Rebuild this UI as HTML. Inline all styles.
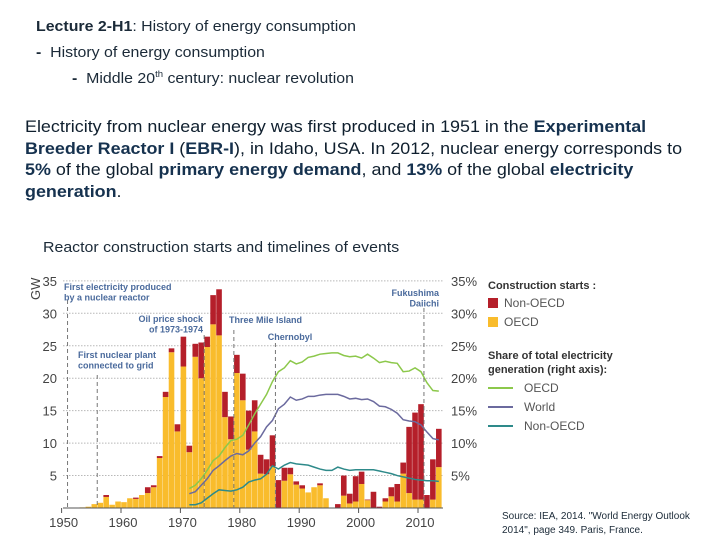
<!DOCTYPE html>
<html><head><meta charset="utf-8"><style>
body{margin:0;width:720px;height:540px;background:#fff;font-family:"Liberation Sans",sans-serif;position:relative;overflow:hidden;color:#1b2a38}
.t{position:absolute;white-space:nowrap;transform-origin:0 0}
.s{transform:scaleX(1.06)}
b{color:#16324f}
</style></head><body>
<div class="t s" style="left:36px;top:18px;font-size:15px"><b style="color:#1b2a38">Lecture 2-H1</b>: History of energy consumption</div>
<div class="t s" style="left:36px;top:44px;font-size:15px"><b style="color:#1b2a38">-</b>&nbsp; History of energy consumption</div>
<div class="t s" style="left:72px;top:69px;font-size:15px"><b style="color:#1b2a38">-</b>&nbsp; Middle 20<sup style="font-size:9px">th</sup> century: nuclear revolution</div>
<div class="t" style="left:25px;top:117px;font-size:16.3px;line-height:21.6px;color:#0f1f2e;transform:scaleX(1.1)">Electricity from nuclear energy was first produced in 1951 in the <b>Experimental</b><br><b>Breeder Reactor I</b> (<b>EBR-I</b>), in Idaho, USA. In 2012, nuclear energy corresponds to<br><b>5%</b> of the global <b>primary energy demand</b>, and <b>13%</b> of the global <b>electricity</b><br><b>generation</b>.</div>
<div class="t s" style="left:43px;top:239px;font-size:15px">Reactor construction starts and timelines of events</div>
<div class="t" style="left:502px;top:510px;font-size:10px;line-height:14px;white-space:normal;width:215px">Source: IEA, 2014. "World Energy Outlook 2014", page 349. Paris, France.</div>
<svg id="chart" width="720" height="540" style="position:absolute;left:0;top:0" font-family="Liberation Sans, sans-serif"></svg>
<script>
const years=[1953,1954,1955,1956,1957,1958,1959,1960,1961,1962,1963,1964,1965,1966,1967,1968,1969,1970,1971,1972,1973,1974,1975,1976,1977,1978,1979,1980,1981,1982,1983,1984,1985,1986,1987,1988,1989,1990,1991,1992,1993,1994,1995,1996,1997,1998,1999,2000,2001,2002,2003,2004,2005,2006,2007,2008,2009,2010,2011,2012,2013];
const oecd=[0.1,0.2,0.6,0.8,1.7,0.5,1.0,0.9,1.5,1.4,2.0,2.3,3.2,7.7,17.1,24.0,11.8,21.8,8.6,23.3,20.0,24.8,28.3,26.6,14.0,10.6,20.8,16.6,9.0,11.8,5.3,5.2,6.4,0,4.2,5.2,3.6,3.0,2.4,3.2,3.5,1.5,0,0,1.9,0.7,1.0,3.7,1.2,0,0,1.0,1.8,1.0,5.3,2.3,1.3,1.3,0,1.3,6.3];
const total=[0.1,0.2,0.6,0.8,2.0,0.5,1.0,0.9,1.5,1.6,2.0,3.2,3.5,8.0,17.9,24.6,12.9,26.4,9.6,25.3,25.5,26.4,32.8,33.7,17.9,14.1,23.6,20.7,15.0,16.6,8.2,7.5,11.2,4.3,6.2,6.2,4.1,3.5,2.4,3.2,3.8,1.5,0,0.6,5.0,2.2,4.9,5.6,1.3,2.5,0.2,1.5,3.2,3.7,7.0,12.5,14.7,16.0,2.0,7.5,12.2];
const lineYears=[1971,1972,1973,1974,1975,1976,1977,1978,1979,1980,1981,1982,1983,1984,1985,1986,1987,1988,1989,1990,1991,1992,1993,1994,1995,1996,1997,1998,1999,2000,2001,2002,2003,2004,2005,2006,2007,2008,2009,2010,2011,2012,2013];
const shareOECD=[3.0,3.5,4.5,5.8,7.3,8.0,9.3,10.4,10.6,11.2,12.8,14.5,16.0,17.5,19.5,21.0,21.6,22.7,22.2,22.5,23.2,23.4,23.7,23.8,23.9,23.9,23.5,23.3,23.4,23.1,23.7,23.1,22.4,22.6,22.4,22.3,21.0,21.1,21.6,21.0,19.3,18.1,18.0];
const shareWorld=[2.2,2.5,3.5,4.5,5.8,6.5,7.3,8.0,8.4,8.2,8.8,10.0,11.0,12.5,13.5,15.3,16.0,17.1,16.6,16.8,17.2,17.2,17.4,17.5,17.5,17.5,17.2,16.8,16.9,16.7,16.8,16.4,15.7,15.6,15.2,14.6,13.6,13.4,13.3,12.8,11.7,10.7,10.5];
const shareNonOECD=[0.5,0.5,0.8,1.5,2.2,2.8,2.7,2.6,2.8,3.2,4.0,4.3,4.5,5.2,6.5,6.0,6.6,7.0,6.8,6.7,6.6,6.3,6.0,5.8,5.8,6.3,6.0,5.8,5.9,5.9,5.9,5.9,5.7,5.5,5.3,5.0,4.8,4.6,4.4,4.3,4.2,4.2,4.1];
const leftTicks=[5,10,15,20,25,30,35];
const rightTicks=[5,10,15,20,25,30,35];
const xTicks=[1950,1960,1970,1980,1990,2000,2010];

const svg=document.getElementById('chart');
const NS='http://www.w3.org/2000/svg';
const x=y=>64.6+(y-1950)*5.94;
const yL=v=>508-v*6.49;
const yR=v=>508-v*6.49;
function mk(tag,attrs,parent){const e=document.createElementNS(NS,tag);for(const k in attrs)e.setAttribute(k,attrs[k]);(parent||svg).appendChild(e);return e;}
function txt(s,attrs){const e=mk('text',attrs);e.textContent=s;return e;}

leftTicks.forEach(v=>{
  const g=mk('line',{x1:63,x2:443,y1:yL(v),y2:yL(v),stroke:'#b8b8b8','stroke-width':1,'stroke-dasharray':'1.5,1.5'});
  
  
  const t=txt(v,{x:57,y:yL(v)+5,'text-anchor':'end','font-size':13,fill:'#444'});
  
  
});
rightTicks.forEach(v=>{
  const t=txt(v+'%',{x:451,y:yR(v)+5,'font-size':13,fill:'#444'});
  
  
});
const gw=txt('GW',{x:0,y:0,'font-size':13,fill:'#444',transform:'translate(40,300) rotate(-90)'});



years.forEach((yr,i)=>{
  const bx=x(yr)-2.8;
  const o=mk('rect',{x:bx,y:yL(oecd[i]),width:5.6,height:oecd[i]*6.49,fill:'#f9bc2c'});
  
  
  const nv=total[i]-oecd[i];
  if(nv>0){
    const n=mk('rect',{x:bx,y:yL(total[i]),width:5.6,height:nv*6.49,fill:'#b51f2a'});
    
    
  }
});

function line(vals,color,name){
  const p=mk('polyline',{points:lineYears.map((yr,i)=>x(yr)+','+yR(vals[i])).join(' '),fill:'none',stroke:color,'stroke-width':1.5});
  
  
}
line(shareOECD,'#8cc84b','line-oecd-share');
line(shareWorld,'#6b6a9e','line-world-share');
line(shareNonOECD,'#2e8a8a','line-nonoecd-share');

const ax=mk('line',{x1:63,x2:443,y1:508,y2:508,stroke:'#555','stroke-width':1});


xTicks.forEach(v=>{
  const tk=mk('line',{x1:x(v)-3,x2:x(v)-3,y1:508,y2:513,stroke:'#555'});
  
  
  const t=txt(v,{x:x(v)-1,y:527,'text-anchor':'middle','font-size':13,fill:'#444'});
  
  
});
const ann=[[1951,300,['First electricity produced','by a nuclear reactor'],64,290,'start'],
 [1956,375,['First nuclear plant','connected to grid'],78,358,'start'],
 [1974,335,['Oil price shock','of 1973-1974'],203,322,'end'],
 [1979,330,['Three Mile Island'],229,323,'start'],
 [1986,343,['Chernobyl'],290,340,'middle'],
 [2011,308,['Fukushima','Daiichi'],439,296,'end']];
ann.forEach(a=>{
  const l=mk('line',{x1:x(a[0])-3,x2:x(a[0])-3,y1:a[1],y2:508,stroke:'#777','stroke-dasharray':'4,3','stroke-width':1});
  
  
  a[2].forEach((s,j)=>{
    const t=txt(s,{x:a[3],y:a[4]+j*10.5,'text-anchor':a[5],'font-size':9,'font-weight':'bold',fill:'#4a6a9c'});
    
    
  });
});
const lg=[['Construction starts  :',488,289,true],['Non-OECD',504,307,false],['OECD',504,326,false],['Share of total electricity',488,359,true],['generation      (right axis):',488,373,true],['OECD',524,392,false],['World',524,411,false],['Non-OECD',524,430,false]];
lg.forEach(l=>{
  const t=txt(l[0],{x:l[1],y:l[2],'font-size':l[3]?11:12,'font-weight':l[3]?'bold':'normal',fill:l[3]?'#333':'#555','xml:space':'preserve'});
  
  
});
[['#b51f2a',298],['#f9bc2c',317]].forEach(s=>{
  const r=mk('rect',{x:488,y:s[1],width:10,height:10,fill:s[0]});
  
  
});
[['#8cc84b',388],['#6b6a9e',407],['#2e8a8a',426]].forEach(s=>{
  const r=mk('line',{x1:488,x2:513,y1:s[1],y2:s[1],stroke:s[0],'stroke-width':2});
  
  
});
</script>
</body></html>
